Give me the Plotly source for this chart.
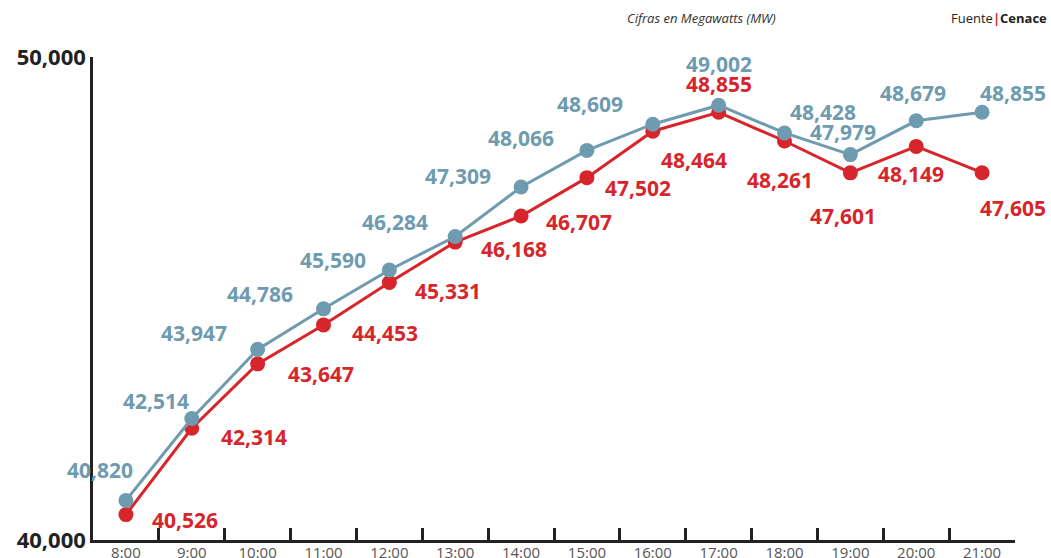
import plotly.graph_objects as go

hours = ["8:00", "9:00", "10:00", "11:00", "12:00", "13:00", "14:00",
         "15:00", "16:00", "17:00", "18:00", "19:00", "20:00", "21:00"]
blue_vals = [40820, 42514, 43947, 44786, 45590, 46284, 47309,
             48066, 48609, 49002, 48428, 47979, 48679, 48855]
red_vals = [40526, 42314, 43647, 44453, 45331, 46168, 46707,
            47502, 48464, 48855, 48261, 47601, 48149, 47605]
y_ticks = [40000, 50000]
y_tick_text = ["40,000", "50,000"]

# label offsets in pixels (dx, dy down-positive)
blue_off = [(-26, -30), (-36, -18), (-64, -16), (-64, -15), (-56, -10), (-60, -14), (-63, -11),
            (-66, -12), (-63, -20), (0, -41), (38, -21), (-7, -23), (-3, -28), (31, -19)]
red_off = [(59, 5), (62, 9), (63, 10), (61, 8), (59, 8), (59, 7), (58, 6),
           (51, 10), (41, 29), (0, -28), (-5, 39), (-7, 43), (-5, 28), (31, 35)]

BLUE = "#6f9bb0"
RED = "#d7262b"
FONT = "Open Sans"

fig = go.Figure()
fig.add_trace(go.Scatter(x=hours, y=red_vals, mode="lines+markers",
                         line=dict(color=RED, width=3),
                         marker=dict(color=RED, size=15), showlegend=False, cliponaxis=False))
fig.add_trace(go.Scatter(x=hours, y=blue_vals, mode="lines+markers",
                         line=dict(color=BLUE, width=3),
                         marker=dict(color=BLUE, size=15), showlegend=False, cliponaxis=False))

ann = []
for h, v, (dx, dy) in zip(hours, blue_vals, blue_off):
    ann.append(dict(x=h, y=v, text=f"{v:,}", showarrow=False, xshift=dx, yshift=-dy,
                    font=dict(family=FONT, size=21, color=BLUE, weight="bold")))
for h, v, (dx, dy) in zip(hours, red_vals, red_off):
    ann.append(dict(x=h, y=v, text=f"{v:,}", showarrow=False, xshift=dx, yshift=-dy,
                    font=dict(family=FONT, size=21, color=RED, weight="bold")))
ann.append(dict(xref="paper", yref="paper", x=0.66, y=1.0, yshift=39, xanchor="center",
                yanchor="middle", showarrow=False, text="<i>Cifras en Megawatts (MW)</i>",
                font=dict(family=FONT, size=13, color="#333")))
ann.append(dict(xref="paper", yref="paper", x=1.0, xshift=34, y=1.0, yshift=39, xanchor="right",
                yanchor="middle", showarrow=False,
                text=f"Fuente<span style='color:{RED}'><b>|</b></span><b>Cenace</b>",
                font=dict(family=FONT, size=13, color="#222")))

fig.update_layout(
    width=1051, height=558,
    margin=dict(l=93, r=36, t=57, b=18),
    paper_bgcolor="white", plot_bgcolor="white",
    annotations=ann,
    xaxis=dict(type="category", range=[-0.5, 13.5], showgrid=False, zeroline=False,
               showline=True, linecolor="#222", linewidth=2.5, automargin=False,
               ticks="inside", tickson="boundaries", ticklen=12, tickwidth=2.5, tickcolor="#222",
               tickfont=dict(family=FONT, size=15, color="#555"), ticklabelstandoff=-3),
    yaxis=dict(range=[40000, 50000], showgrid=False, zeroline=False,
               showline=True, linecolor="#222", linewidth=2.5, automargin=False,
               tickvals=y_ticks, ticktext=y_tick_text,
               ticks="inside", ticklen=22, tickwidth=2.5, tickcolor="#222",
               tickfont=dict(family=FONT, size=22, color="#222", weight="bold")),
)

fig.write_html("out.html", config={"displayModeBar": False},
               post_script="document.body.style.margin='0';document.body.style.overflow='hidden';")
